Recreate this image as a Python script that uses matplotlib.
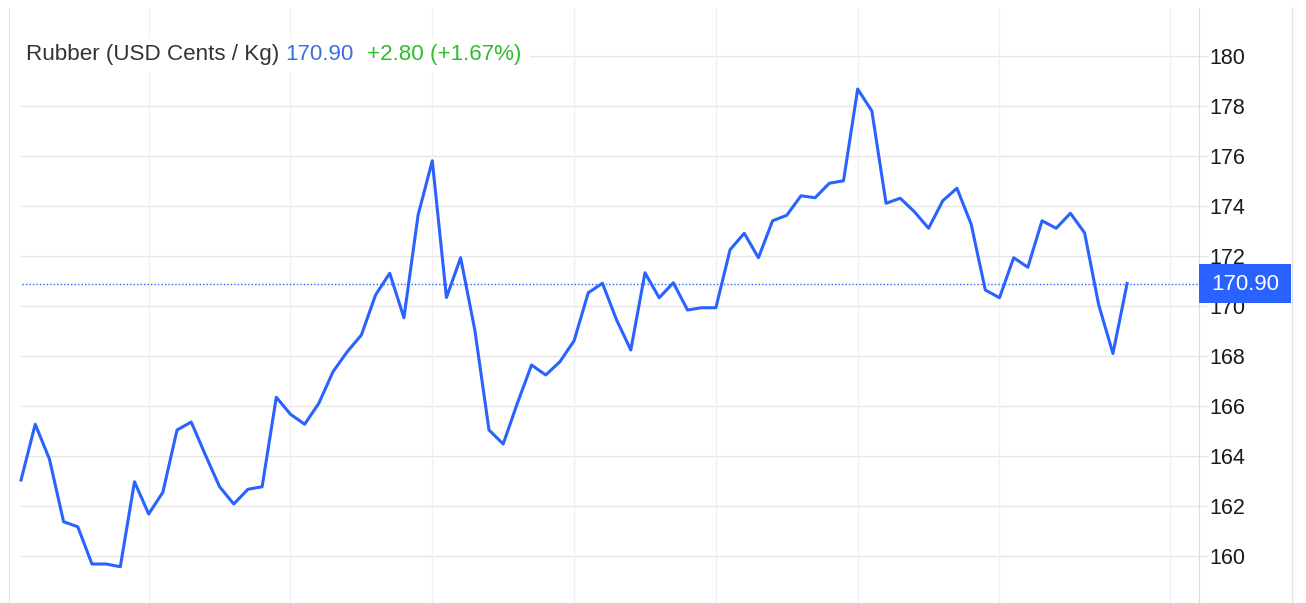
import numpy as np
import matplotlib
matplotlib.use('Agg')
import matplotlib.pyplot as plt
from matplotlib.patches import Rectangle
from matplotlib.lines import Line2D
from matplotlib.transforms import blended_transform_factory

# daily rubber prices, USD cents / kg
prices = [163.04, 165.27, 163.88, 161.37, 161.17, 159.68, 159.68, 159.57, 162.97, 161.68,
          162.55, 165.04, 165.36, 164.04, 162.77, 162.08, 162.67, 162.77, 166.35, 165.67,
          165.27, 166.11, 167.37, 168.17, 168.84, 170.44, 171.31, 169.53, 173.64, 175.81,
          170.34, 171.93, 169.04, 165.04, 164.48, 166.11, 167.64, 167.24, 167.77, 168.61,
          170.53, 170.91, 169.44, 168.24, 171.33, 170.33, 170.93, 169.84, 169.93, 169.93,
          172.25, 172.91, 171.93, 173.41, 173.63, 174.41, 174.33, 174.91, 175.01, 178.68,
          177.80, 174.11, 174.31, 173.77, 173.11, 174.21, 174.71, 173.28, 170.64, 170.33,
          171.93, 171.55, 173.41, 173.11, 173.71, 172.93, 170.04, 168.10, 170.90]
last_price = 170.90
change = 2.80
change_pct = 1.67
y_ticks = list(range(160, 181, 2))
period_lines = [9, 19, 29, 39, 49, 59, 69, 81]
title = 'Rubber (USD Cents / Kg)'

W, H = 1306, 603
LINE_BLUE = '#2962ff'
GRID = '#e6e6e6'

fig = plt.figure(figsize=(W / 100, H / 100), dpi=100)
ax = fig.add_axes([9 / W, 0, 1190 / W, 595 / H])

x = np.arange(len(prices))
ax.plot(x, prices, color=LINE_BLUE, lw=2.2, zorder=3)
ax.set_xlim(-0.85, 83.07)
ax.set_ylim(158.12, 181.92)

# grid
for t in y_ticks:
	ax.axhline(t, xmin=12 / 1190, color=GRID, lw=1, zorder=0)
for m in period_lines:
	ax.axvline(m, color='#f0f0f4', lw=1, zorder=0)

# last price dotted line
ax.axhline(last_price, xmin=13 / 1190, color=LINE_BLUE, lw=1, ls=(0, (1, 1.5)), zorder=2)

for s in ['top', 'bottom']:
	ax.spines[s].set_visible(False)
ax.spines['left'].set_color('#e2e2e2')
ax.spines['right'].set_color('#dcdcdc')

ax.set_xticks([])
ax.yaxis.tick_right()
ax.set_yticks(y_ticks)
ax.set_yticklabels([str(t) for t in y_ticks], family='Liberation Sans')
ax.tick_params(axis='y', length=6.5, width=1, color=GRID, labelsize=15.5,
			   labelcolor='#1a1a1a', pad=0.8)

# price tag on the axis
trans = blended_transform_factory(ax.transAxes, ax.transData)
box_w = 92 / 1190
box_h = 39 / 25
ax.add_patch(Rectangle((1.0, last_price - box_h / 2), box_w, box_h, transform=trans,
					   facecolor=LINE_BLUE, edgecolor='none', clip_on=False, zorder=5))
ax.text(1.0 + box_w / 2, last_price - 0.02, f'{last_price:.2f}', transform=trans,
		ha='center', va='center', color='white', fontsize=16,
		family='Liberation Sans', zorder=6, clip_on=False)

# right border
fig.add_artist(Line2D([1292 / W, 1292 / W], [0, 595 / H], transform=fig.transFigure,
					  color='#e2e2e2', lw=1))

# title with white background over the grid
fig.add_artist(Rectangle((20 / W, (H - 72) / H), 510 / W, 34 / H, transform=fig.transFigure,
						 facecolor='white', edgecolor='none'))
renderer = fig.canvas.get_renderer()
ty = (H - 60) / H
t1 = fig.text(26 / W, ty, title, fontsize=16.1, color='#333333',
			  family='Liberation Sans', va='baseline')
x1 = t1.get_window_extent(renderer).x1
t2 = fig.text((x1 + 6) / W, ty, f'{last_price:.2f}', fontsize=16.1, color='#3b6fe0',
			  family='Liberation Sans', va='baseline')
x2 = t2.get_window_extent(renderer).x1
fig.text((x2 + 13) / W, ty, f'+{change:.2f} (+{change_pct:.2f}%)', fontsize=16.1,
		 color='#2dbd2d', family='Liberation Sans', va='baseline')

fig.savefig('out.png', dpi=100, facecolor='white')
